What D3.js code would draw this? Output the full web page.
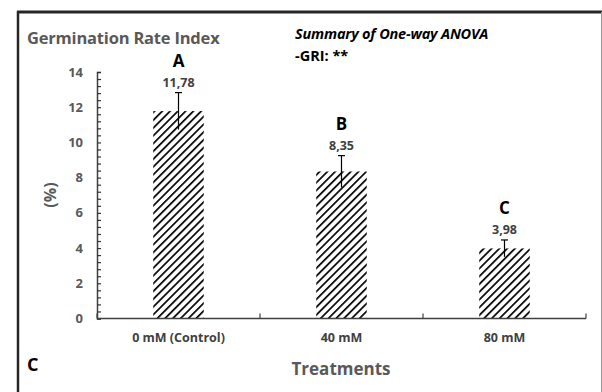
<!DOCTYPE html>
<html>
<head>
<meta charset="utf-8">
<script src="https://cdn.jsdelivr.net/npm/d3@7"></script>
<style>
  body { margin: 0; background: #fff; }
  text { font-family: "Open Sans", sans-serif; }
</style>
</head>
<body>
<div id="svg"></div>
<script>
var treatments = ["0 mM (Control)", "40 mM", "80 mM"];
var gri = [11.78, 8.35, 3.98];
var gri_err = [1.05, 0.9, 0.48];
var gri_labels = ["11,78", "8,35", "3,98"];
var groups = ["A", "B", "C"];
var y_ticks = [0, 2, 4, 6, 8, 10, 12, 14];

var width = 602;
var height = 392;

var svg = d3.select("#svg").append("svg")
  .attr("width", width)
  .attr("height", height);

// hatch fill for the bars
var pat = svg.append("defs").append("pattern")
  .attr("id", "hatch")
  .attr("patternUnits", "userSpaceOnUse")
  .attr("width", 5.5)
  .attr("height", 5.5)
  .attr("patternTransform", "rotate(45)");
pat.append("rect").attr("width", 5.5).attr("height", 5.5).attr("fill", "#fff");
pat.append("line")
  .attr("x1", 0).attr("y1", 0).attr("x2", 0).attr("y2", 5.5)
  .attr("stroke", "#000").attr("stroke-width", 3.4);

// frame
svg.append("line").attr("x1", 17).attr("y1", 12).attr("x2", 602).attr("y2", 12)
  .attr("stroke", "#262626").attr("stroke-width", 3);
svg.append("line").attr("x1", 18).attr("y1", 11).attr("x2", 18).attr("y2", 392)
  .attr("stroke", "#262626").attr("stroke-width", 2.5);
svg.append("line").attr("x1", 601.5).attr("y1", 12).attr("x2", 601.5).attr("y2", 392)
  .attr("stroke", "#999").attr("stroke-width", 1);

var x_axis = d3.scaleBand().domain(treatments).range([97, 586]).paddingInner(0.69).paddingOuter(0.345);
var y_axis = d3.scaleLinear().domain([0, 14]).range([318.5, 72]);

var g = svg.append("g");

// bars
g.selectAll(".bar").data(gri).enter().append("rect")
  .attr("class", "bar")
  .attr("x", function(d, i) { return x_axis(treatments[i]); })
  .attr("width", x_axis.bandwidth())
  .attr("y", function(d) { return y_axis(d); })
  .attr("height", function(d) { return y_axis(0) - y_axis(d); })
  .attr("fill", "url(#hatch)");

// error bars
gri.forEach(function(d, i) {
  var cx = x_axis(treatments[i]) + x_axis.bandwidth() / 2;
  var top = y_axis(d + gri_err[i]);
  var bot = y_axis(d - gri_err[i]);
  g.append("line").attr("x1", cx).attr("x2", cx).attr("y1", top).attr("y2", bot)
    .attr("stroke", "#000").attr("stroke-width", 1.2);
  g.append("line").attr("x1", cx - 3.5).attr("x2", cx + 3.5).attr("y1", top).attr("y2", top)
    .attr("stroke", "#000").attr("stroke-width", 1.2);
  g.append("text").attr("x", cx).attr("y", top - 6)
    .attr("text-anchor", "middle").attr("font-size", 12.5).attr("font-weight", "bold")
    .attr("fill", "#404040").text(gri_labels[i]);
  g.append("text").attr("x", cx).attr("y", top - 25.5)
    .attr("text-anchor", "middle").attr("font-size", 17).attr("font-weight", "bold")
    .attr("fill", "#000").text(groups[i]);
});

// y axis
var minor = d3.range(0, 14.001, 0.4);
var ya = g.append("g").attr("transform", "translate(97,0)")
  .call(d3.axisRight(y_axis).tickValues(minor).tickSize(4).tickFormat(""));
ya.select(".domain").attr("stroke", "#404040").attr("stroke-width", 1.5);
ya.selectAll(".tick line").attr("stroke", "#333").attr("stroke-width", 1.2);
g.selectAll(".ylab").data(y_ticks).enter().append("text")
  .attr("x", 83).attr("y", function(d) { return y_axis(d); })
  .attr("dy", "0.35em").attr("text-anchor", "end")
  .attr("font-size", 13).attr("font-weight", "bold").attr("fill", "#595959")
  .text(function(d) { return d; });

// x axis
var xa = g.append("g").attr("transform", "translate(0,318.5)");
xa.append("line").attr("x1", 97).attr("x2", 586).attr("stroke", "#404040").attr("stroke-width", 1.5);
var step = x_axis.step();
d3.range(0, treatments.length + 1).forEach(function(i) {
  var tx = 97 + i * step;
  xa.append("line").attr("x1", tx).attr("x2", tx).attr("y1", 0).attr("y2", -5)
    .attr("stroke", "#404040").attr("stroke-width", 1.2);
});
treatments.forEach(function(t) {
  xa.append("text").attr("x", x_axis(t) + x_axis.bandwidth() / 2).attr("y", 23)
    .attr("text-anchor", "middle").attr("font-size", 12.5).attr("font-weight", "bold")
    .attr("fill", "#404040").text(t);
});

// titles
svg.append("text").attr("x", 27).attr("y", 44).attr("font-size", 16.5).attr("font-weight", "bold")
  .attr("fill", "#595959").attr("letter-spacing", -0.2).text("Germination Rate Index");
svg.append("text").attr("x", 295).attr("y", 39).attr("font-size", 14.5).attr("font-weight", "bold")
  .attr("font-style", "italic").attr("fill", "#000").attr("letter-spacing", -0.2).text("Summary of  One-way ANOVA");
svg.append("text").attr("x", 295).attr("y", 61).attr("font-size", 14.5).attr("font-weight", "bold")
  .attr("fill", "#000").text("-GRI: **");
svg.append("text").attr("transform", "translate(50,195) rotate(-90)")
  .attr("text-anchor", "middle").attr("dy", "0.35em")
  .attr("font-size", 16).attr("font-weight", "bold").attr("fill", "#595959").text("(%)");
svg.append("text").attr("x", 341).attr("y", 375).attr("text-anchor", "middle")
  .attr("font-size", 17).attr("font-weight", "bold").attr("fill", "#595959").text("Treatments");
svg.append("text").attr("x", 27).attr("y", 371).attr("font-size", 18).attr("font-weight", "bold")
  .attr("fill", "#000").text("C");
</script>
</body>
</html>
